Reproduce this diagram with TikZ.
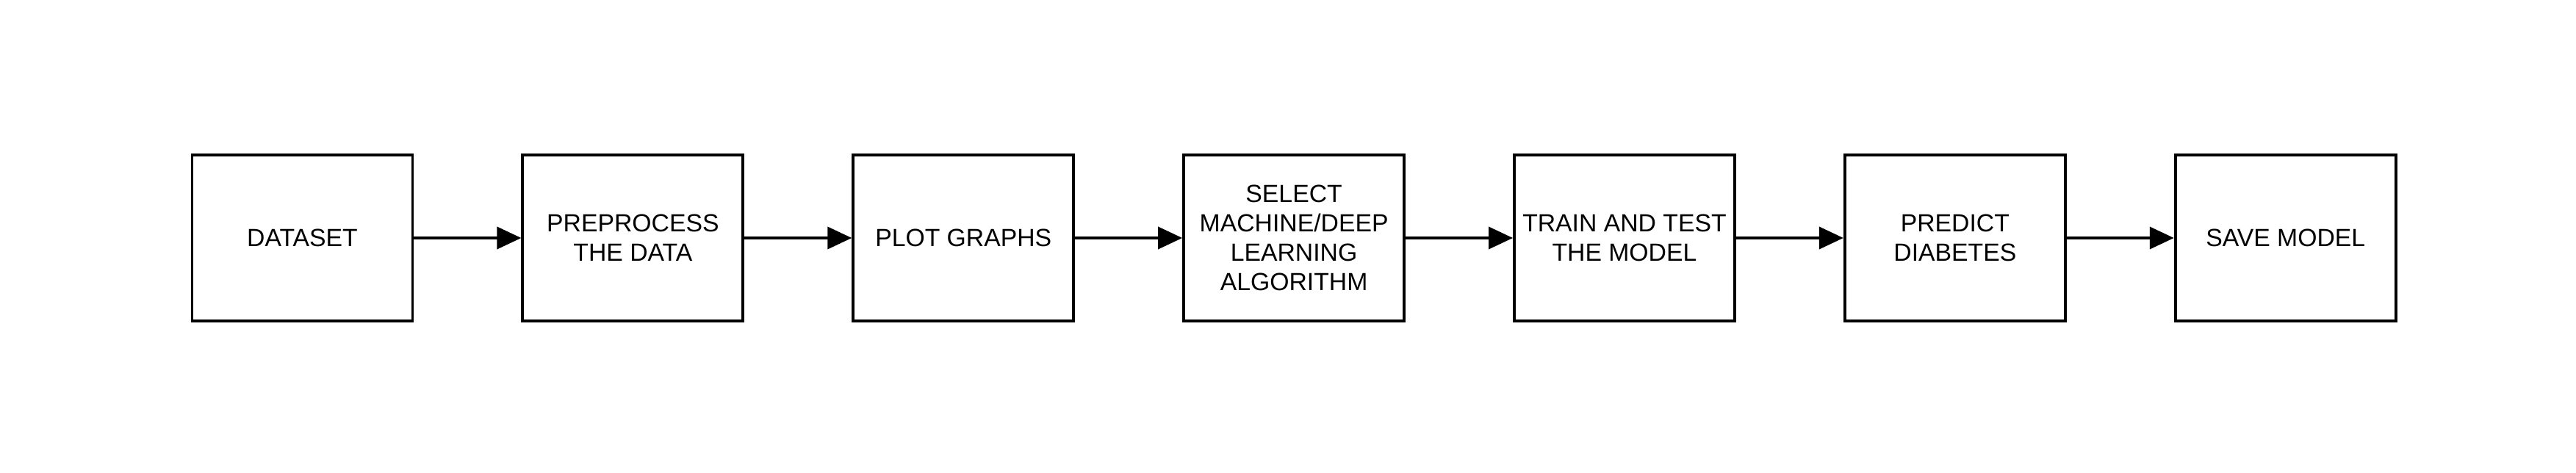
\documentclass[tikz,border=0pt]{standalone}
\usepackage{fontspec}
\setmainfont{Liberation Sans}
\usepackage{tikz}
\usetikzlibrary{positioning,arrows.meta}

\begin{document}
\begin{tikzpicture}[
    stage/.style={draw, line width=1.1pt, minimum width=3cm, minimum height=2.26cm,
        align=center, font=\fontsize{9.6}{11.4}\selectfont, inner sep=0pt},
    flow/.style={-{Triangle[length=0.33cm, width=0.3cm]}, line width=1.1pt}
]

    \useasboundingbox (0,0) rectangle (35.06,6.43);

    % Stages
    \node[stage] (data) at (4.115,3.19) {DATASET};
    \node[stage, right=1.46cm of data] (prep) {PREPROCESS\\THE DATA};
    \node[stage, right=1.46cm of prep] (plot) {PLOT GRAPHS};
    \node[stage, right=1.46cm of plot] (algo) {SELECT\\MACHINE/DEEP\\LEARNING\\ALGORITHM};
    \node[stage, right=1.46cm of algo] (train) {TRAIN AND TEST\\THE MODEL};
    \node[stage, right=1.46cm of train] (pred) {PREDICT\\DIABETES};
    \node[stage, right=1.46cm of pred] (save) {SAVE MODEL};

    % Arrows
    \draw[flow] (data) -- (prep);
    \draw[flow] (prep) -- (plot);
    \draw[flow] (plot) -- (algo);
    \draw[flow] (algo) -- (train);
    \draw[flow] (train) -- (pred);
    \draw[flow] (pred) -- (save);

\end{tikzpicture}
\end{document}
